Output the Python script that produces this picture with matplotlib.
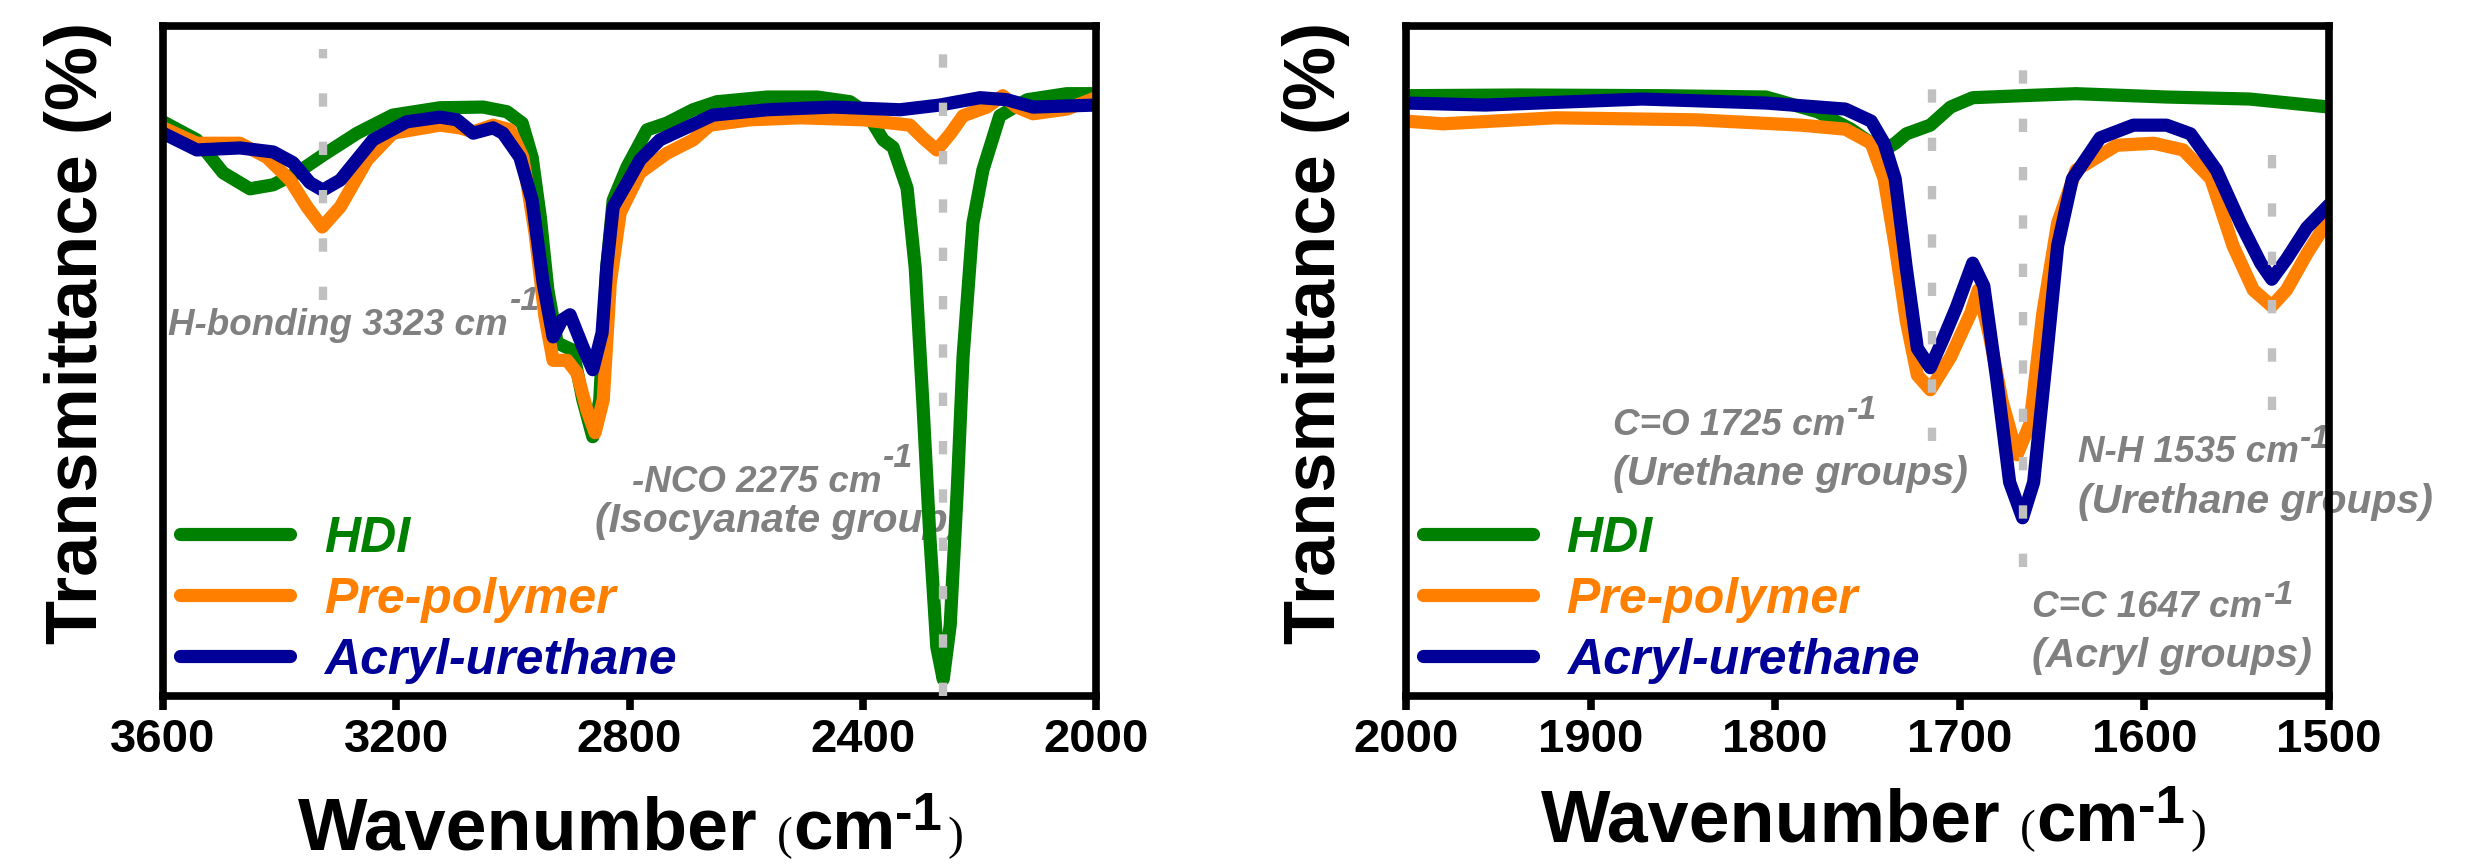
import matplotlib
matplotlib.use("Agg")
import matplotlib.pyplot as plt

plt.rcParams['font.family'] = ['Liberation Sans', 'DejaVu Sans']
plt.rcParams['font.weight'] = 'bold'

# ---- left panel: 3600-2000 cm-1 ----
hdi_l_wn = [3600, 3542, 3497, 3451, 3411, 3370, 3326, 3267, 3206, 3125, 3051, 3010, 2984, 2967,
            2953, 2940, 2924, 2897, 2880, 2863, 2851, 2839, 2828, 2804, 2770, 2736, 2691, 2650,
            2564, 2478, 2422, 2393, 2365, 2348, 2324, 2310, 2297, 2285, 2273, 2262, 2250, 2238,
            2228, 2211, 2194, 2165, 2118, 2050, 2000]
hdi_l_t = [85.7, 83.0, 78.1, 75.7, 76.3, 78.1, 80.7, 84.0, 86.7, 87.8, 87.9, 87.2, 85.5, 80.4,
           71.5, 60.6, 52.7, 51.6, 44.2, 38.7, 44.2, 64.0, 74.0, 79.0, 84.5, 85.5, 87.5, 88.7,
           89.4, 89.4, 88.7, 87.0, 83.0, 81.9, 75.8, 63.9, 43.9, 23.9, 7.3, 2.5, 10.6, 30.6,
           50.6, 70.6, 78.5, 86.6, 89.0, 89.9, 89.9]

pre_l_wn = [3600, 3542, 3468, 3422, 3382, 3353, 3327, 3296, 3250, 3206, 3125, 3091, 3068, 3034,
            3005, 2983, 2962, 2945, 2931, 2907, 2890, 2873, 2859, 2845, 2833, 2816, 2782, 2736,
            2691, 2662, 2593, 2508, 2400, 2319, 2297, 2273, 2250, 2228, 2187, 2160, 2136, 2108,
            2050, 2000]
pre_l_t = [84.8, 82.5, 82.5, 80.4, 77.0, 73.0, 70.0, 73.0, 80.0, 84.0, 85.2, 84.8, 84.2, 85.2,
           84.5, 80.4, 69.1, 56.6, 50.1, 50.1, 48.2, 42.7, 39.3, 44.2, 61.6, 72.1, 78.1, 81.0,
           83.0, 85.2, 86.0, 86.3, 86.0, 85.2, 83.3, 81.5, 83.9, 86.6, 87.9, 89.6, 87.9, 86.9,
           87.6, 89.3]

acr_l_wn = [3600, 3542, 3468, 3411, 3377, 3348, 3326, 3296, 3240, 3182, 3125, 3096, 3068, 3034,
            3017, 2988, 2967, 2948, 2931, 2916, 2902, 2880, 2863, 2847, 2839, 2828, 2804, 2782,
            2748, 2701, 2657, 2564, 2451, 2336, 2268, 2199, 2153, 2108, 2000]
acr_l_t = [84.0, 81.5, 81.8, 81.2, 79.6, 76.6, 75.5, 77.0, 83.0, 85.7, 86.4, 86.0, 84.0, 84.8,
           84.0, 80.4, 74.0, 61.6, 53.6, 56.1, 56.9, 52.1, 48.7, 54.2, 64.0, 73.0, 76.6, 80.0,
           83.0, 84.9, 86.7, 87.5, 87.9, 87.5, 88.2, 89.3, 89.0, 87.9, 88.2]

# ---- right panel: 2000-1500 cm-1 ----
hdi_r_wn = [2000, 1938, 1862, 1805, 1777, 1759, 1748, 1741, 1735, 1729, 1716, 1705, 1693, 1666,
            1637, 1588, 1543, 1500]
hdi_r_t = [89.6, 89.7, 89.6, 89.4, 87.2, 84.6, 82.5, 81.5, 82.5, 83.9, 85.2, 87.9, 89.3, 89.6,
           89.9, 89.4, 89.1, 87.9]

pre_r_wn = [2000, 1980, 1919, 1843, 1786, 1762, 1748, 1741, 1735, 1729, 1723, 1716, 1705, 1694,
            1690, 1684, 1677, 1669, 1662, 1655, 1647, 1637, 1615, 1595, 1579, 1564, 1552, 1541,
            1531, 1523, 1512, 1500]
pre_r_t = [85.8, 85.4, 86.3, 86.0, 85.2, 84.6, 82.5, 77.2, 67.2, 56.0, 47.9, 45.7, 50.6, 57.2,
           60.6, 53.9, 43.9, 36.0, 40.6, 57.2, 70.6, 78.5, 82.2, 82.5, 81.5, 77.2, 67.2, 60.6,
           58.2, 60.6, 66.0, 71.2]

acr_r_wn = [2000, 1957, 1872, 1805, 1762, 1748, 1741, 1735, 1729, 1723, 1716, 1709, 1702, 1693,
            1687, 1680, 1673, 1666, 1660, 1653, 1647, 1639, 1624, 1606, 1588, 1575, 1561, 1548,
            1537, 1531, 1523, 1512, 1500]
acr_r_t = [88.5, 88.2, 89.1, 88.5, 87.6, 85.8, 82.5, 77.2, 63.9, 51.9, 49.0, 53.3, 57.9, 64.6,
           61.2, 47.3, 31.9, 26.6, 31.9, 50.6, 67.2, 77.2, 83.3, 85.2, 85.2, 83.9, 78.5, 70.6,
           64.6, 62.2, 65.2, 69.9, 73.3]

labels = ['HDI', 'Pre-polymer', 'Acryl-urethane']
colors = ['#008000', '#FF8000', '#000099']

# peak markers (dotted grey lines): position, top, bottom
mark_l_wn = [3326, 2262]
mark_l_top = [96.5, 98.2]
mark_l_bot = [59.1, 0.0]
mark_r_wn = [1715, 1666, 1531]
mark_r_top = [95.2, 96.9, 84.9]
mark_r_bot = [38.1, 19.3, 42.7]

# annotations: first line, x, baseline, superscript raise (pt), second line, x, baseline
notes_l = [("H-bonding 3323 cm", 3591, 53.9, 18, None, None, None),
           ("-NCO 2275 cm", 2796, 30.4, 18, "(Isocyanate group)", 2859, 24.5)]
notes_r = [("C=O 1725 cm", 1888, 39.0, 11, "(Urethane groups)", 1888, 31.5),
           ("N-H 1535 cm", 1636, 34.9, 10, "(Urethane groups)", 1636, 27.3),
           ("C=C 1647 cm", 1661, 11.8, 9, "(Acryl groups)", 1661, 4.3)]

W, H = 2487, 864
fig = plt.figure(figsize=(W / 100, H / 100), dpi=100)
ax1 = fig.add_axes([163 / W, 168 / H, 933 / W, 670 / H])
ax2 = fig.add_axes([1406 / W, 168 / H, 923 / W, 670 / H])

note_font = dict(color='#808080', fontweight='bold', fontstyle='italic')


def draw_panel(ax, series, marks, notes, xlim, xticks, ylab_x, xlab_px):
    for (wn, t), lab, c in zip(series, labels, colors):
        ax.plot(wn, t, color=c, lw=9.5, label=lab, solid_joinstyle='round',
                solid_capstyle='round', zorder=2)
    for xm, top, bot in zip(*marks):
        ax.plot([xm, xm], [bot, top], color='#C0C0C0', lw=6, dashes=(1.6, 4.2), zorder=3)
    for s1, x1, y1, rise, s2, x2, y2 in notes:
        t = ax.text(x1, y1, s1, fontsize=26.5, ha='left', va='baseline', zorder=1, **note_font)
        ax.annotate('-1', xy=(1, y1), xycoords=(t, 'data'), xytext=(0.5, rise),
                    textcoords='offset points', fontsize=24.5, ha='left', va='baseline',
                    annotation_clip=False, zorder=1, **note_font)
        if s2:
            ax.text(x2, y2, s2, fontsize=29.5, ha='left', va='baseline', zorder=1, **note_font)

    ax.set_xlim(*xlim)
    ax.set_ylim(0, 100)
    ax.set_xticks(xticks)
    ax.set_yticks([])
    ax.tick_params(axis='x', direction='out', length=10, width=5.5, pad=6, labelsize=34)
    for sp in ax.spines.values():
        sp.set_linewidth(5.5)

    leg = ax.legend(loc='lower left', bbox_to_anchor=(0.018, 0.018), frameon=False,
                    borderpad=0, borderaxespad=0, handlelength=2.2, handletextpad=0.68,
                    labelspacing=0.3, labelcolor='linecolor',
                    prop=dict(weight='bold', style='italic', size=36))
    for h in leg.get_lines():
        h.set_linewidth(9.5)

    fig.text(ylab_x / W, 1 - 333 / H, 'Transmittance (%)', rotation=90, ha='center',
             va='center', fontsize=52, fontweight='bold')

    # x label built from pieces: Wavenumber (cm-1)
    x0, y0 = xlab_px
    t = ax.annotate('Wavenumber', xy=(x0, y0), xycoords='figure pixels', fontsize=53,
                    ha='left', va='baseline', annotation_clip=False)
    pieces = [('(', dict(fontsize=34, family='Liberation Serif', fontweight='normal'), 14, 0),
              ('cm', dict(fontsize=51), 0, 0),
              ('-1', dict(fontsize=38), 0, 14),
              (')', dict(fontsize=34, family='Liberation Serif', fontweight='normal'), 4, 0)]
    for s, fp, dx, dy in pieces:
        t = ax.annotate(s, xy=(1, y0), xycoords=(t, 'figure pixels'), xytext=(dx, dy),
                        textcoords='offset points', ha='left', va='baseline',
                        annotation_clip=False, **fp)


draw_panel(ax1, [(hdi_l_wn, hdi_l_t), (pre_l_wn, pre_l_t), (acr_l_wn, acr_l_t)],
           (mark_l_wn, mark_l_top, mark_l_bot), notes_l, (3600, 2000),
           [3600, 3200, 2800, 2400, 2000], 78, (298, 15))
draw_panel(ax2, [(hdi_r_wn, hdi_r_t), (pre_r_wn, pre_r_t), (acr_r_wn, acr_r_t)],
           (mark_r_wn, mark_r_top, mark_r_bot), notes_r, (2000, 1500),
           [2000, 1900, 1800, 1700, 1600, 1500], 1316, (1541, 22))

fig.savefig('out.png', dpi=100)
